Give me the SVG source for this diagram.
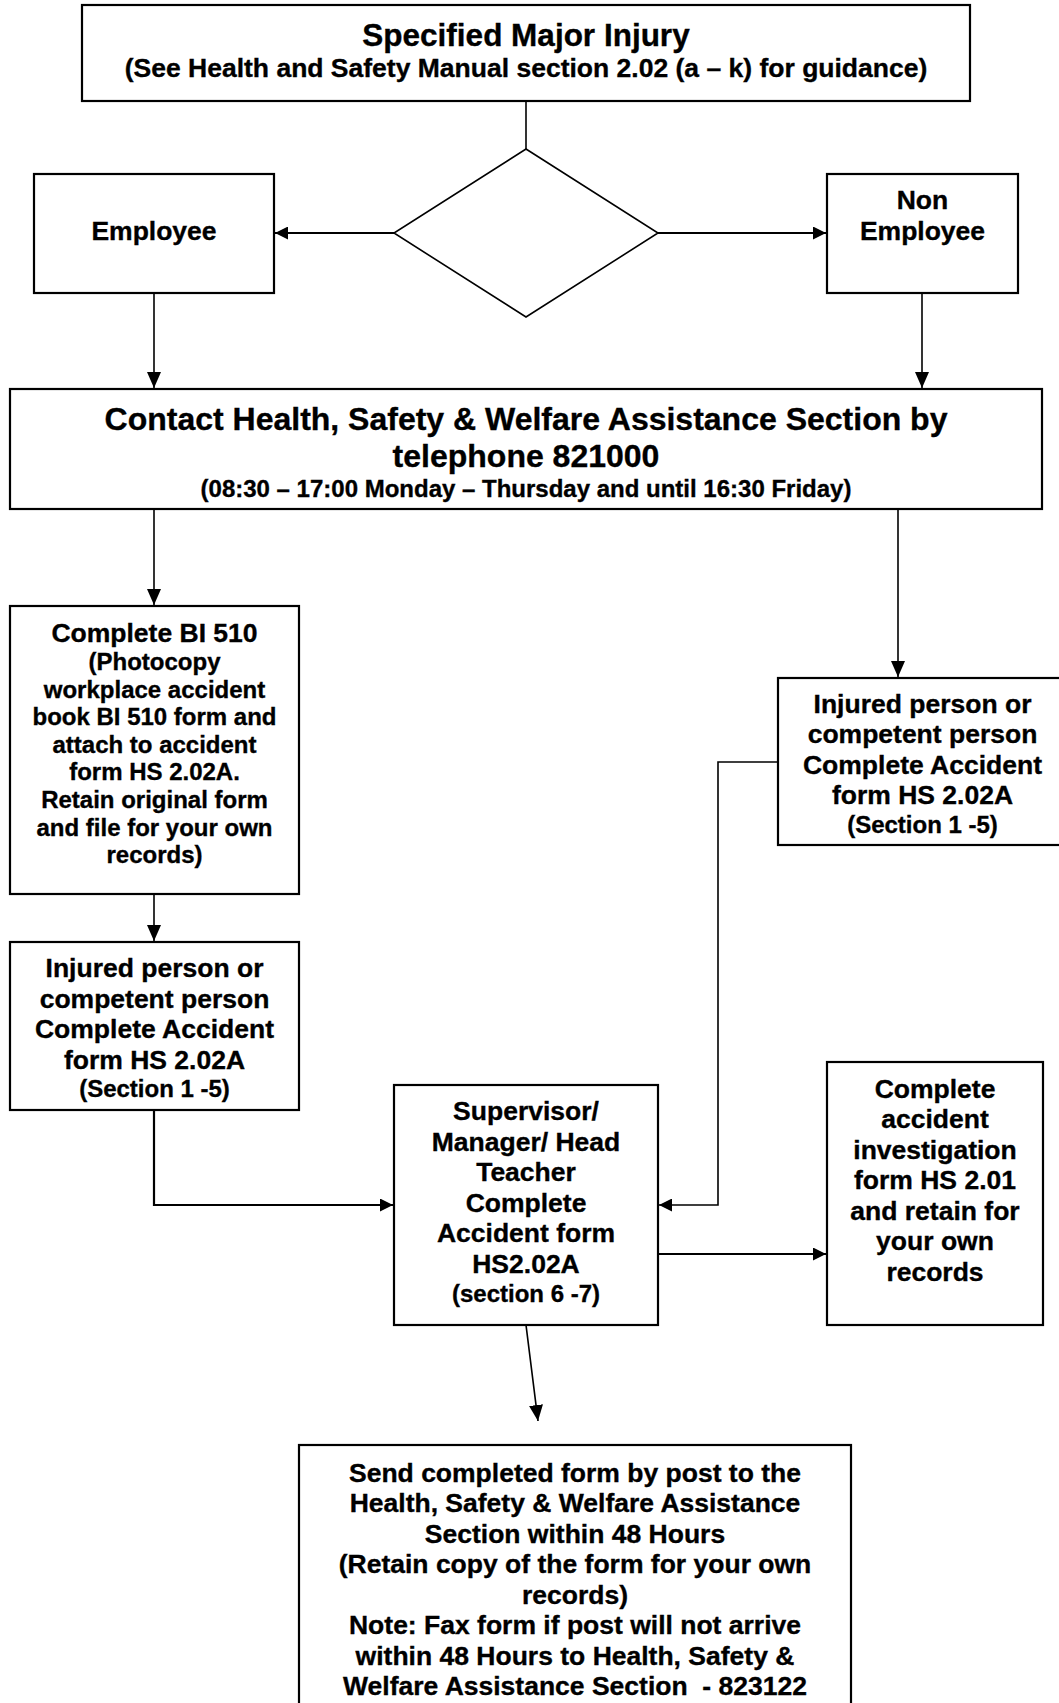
<svg xmlns="http://www.w3.org/2000/svg" width="1059" height="1703" viewBox="0 0 1059 1703">
  <style>
    .box { fill: #ffffff; stroke: #000000; stroke-width: 2.2; }
    .diamond { fill: #ffffff; stroke: #000000; stroke-width: 1.6; }
    .link { fill: none; stroke: #000000; stroke-width: 1.6; }
    .thick { stroke-width: 2.2; }
    text { font-family: "Liberation Sans", Arial, sans-serif; font-weight: bold; fill: #000000; stroke: #000000; stroke-width: 0.35; text-anchor: middle; }
    .h32 { font-size: 32px; }
    .h31 { font-size: 31.5px; }
    .h26 { font-size: 26.5px; }
    .h24 { font-size: 24px; }
  </style>
  <defs>
    <marker id="arrow" markerUnits="userSpaceOnUse" markerWidth="16" markerHeight="14" refX="16" refY="7" orient="auto">
      <path d="M0,0 L16,7 L0,14 Z" fill="#000000"/>
    </marker>
    <marker id="arrowSmall" markerUnits="userSpaceOnUse" markerWidth="13" markerHeight="13" refX="13" refY="6.5" orient="auto">
      <path d="M0,0 L13,6.5 L0,13 Z" fill="#000000"/>
    </marker>
  </defs>
  <rect x="0" y="0" width="1059" height="1703" fill="#ffffff"/>

  <!-- connectors -->
  <g id="connectors">
    <line class="link" x1="526" y1="101" x2="526" y2="149"/>
    <line class="link thick" x1="394" y1="233" x2="275" y2="233" marker-end="url(#arrowSmall)"/>
    <line class="link thick" x1="658" y1="233" x2="826" y2="233" marker-end="url(#arrowSmall)"/>
    <line class="link" x1="154" y1="293" x2="154" y2="388" marker-end="url(#arrow)"/>
    <line class="link" x1="922" y1="293" x2="922" y2="388" marker-end="url(#arrow)"/>
    <line class="link" x1="154" y1="509" x2="154" y2="605" marker-end="url(#arrow)"/>
    <line class="link" x1="154" y1="894" x2="154" y2="941" marker-end="url(#arrow)"/>
    <line class="link" x1="898" y1="509" x2="898" y2="677" marker-end="url(#arrow)"/>
    <polyline class="link" points="778,762 718,762 718,1205 659,1205" marker-end="url(#arrowSmall)"/>
    <polyline class="link thick" points="154,1110 154,1205 393,1205" marker-end="url(#arrowSmall)"/>
    <line class="link thick" x1="658" y1="1254" x2="826" y2="1254" marker-end="url(#arrowSmall)"/>
    <line class="link" x1="526" y1="1325" x2="538" y2="1421" marker-end="url(#arrow)"/>
  </g>

  <!-- start -->
  <g id="node-major-injury">
    <rect class="box" x="82" y="5" width="888" height="96"/>
    <text class="h31" x="526" y="46">Specified Major Injury</text>
    <text class="h26" x="526" y="76.5">(See Health and Safety Manual section 2.02 (a – k) for guidance)</text>
  </g>

  <g id="node-decision">
    <polygon class="diamond" points="526,149 658,233 526,317 394,233"/>
  </g>

  <g id="node-employee">
    <rect class="box" x="34" y="174" width="240" height="119"/>
    <text class="h26" x="154" y="240">Employee</text>
  </g>

  <g id="node-non-employee">
    <rect class="box" x="827" y="174" width="191" height="119"/>
    <text class="h26" x="922.5" y="209">Non</text>
    <text class="h26" x="922.5" y="240">Employee</text>
  </g>

  <g id="node-contact">
    <rect class="box" x="10" y="389" width="1032" height="120"/>
    <text class="h32" x="526" y="430">Contact Health, Safety &amp; Welfare Assistance Section by</text>
    <text class="h32" x="526" y="467">telephone 821000</text>
    <text class="h24" x="526" y="497">(08:30 – 17:00 Monday – Thursday and until 16:30 Friday)</text>
  </g>

  <g id="node-bi510">
    <rect class="box" x="10" y="606" width="289" height="288"/>
    <text class="h26" x="154.5" y="641.5">Complete BI 510</text>
    <text class="h24" x="154.5" y="670">(Photocopy</text>
    <text class="h24" x="154.5" y="697.6">workplace accident</text>
    <text class="h24" x="154.5" y="725.2">book BI 510 form and</text>
    <text class="h24" x="154.5" y="752.8">attach to accident</text>
    <text class="h24" x="154.5" y="780.4">form HS 2.02A.</text>
    <text class="h24" x="154.5" y="808">Retain original form</text>
    <text class="h24" x="154.5" y="835.6">and file for your own</text>
    <text class="h24" x="154.5" y="863.2">records)</text>
  </g>

  <g id="node-injured-employee">
    <rect class="box" x="10" y="942" width="289" height="168"/>
    <text class="h26" x="154.5" y="977">Injured person or</text>
    <text class="h26" x="154.5" y="1007.5">competent person</text>
    <text class="h26" x="154.5" y="1038">Complete Accident</text>
    <text class="h26" x="154.5" y="1068.5">form HS 2.02A</text>
    <text class="h24" x="154.5" y="1097">(Section 1 -5)</text>
  </g>

  <g id="node-injured-non-employee">
    <rect class="box" x="778" y="678" width="290" height="167"/>
    <text class="h26" x="922.5" y="712.5">Injured person or</text>
    <text class="h26" x="922.5" y="743">competent person</text>
    <text class="h26" x="922.5" y="773.5">Complete Accident</text>
    <text class="h26" x="922.5" y="804">form HS 2.02A</text>
    <text class="h24" x="922.5" y="833">(Section 1 -5)</text>
  </g>

  <g id="node-supervisor">
    <rect class="box" x="394" y="1085" width="264" height="240"/>
    <text class="h26" x="526" y="1120">Supervisor/</text>
    <text class="h26" x="526" y="1150.5">Manager/ Head</text>
    <text class="h26" x="526" y="1181">Teacher</text>
    <text class="h26" x="526" y="1211.5">Complete</text>
    <text class="h26" x="526" y="1242">Accident form</text>
    <text class="h26" x="526" y="1272.5">HS2.02A</text>
    <text class="h24" x="526" y="1302">(section 6 -7)</text>
  </g>

  <g id="node-investigation">
    <rect class="box" x="827" y="1062" width="216" height="263"/>
    <text class="h26" x="935" y="1097.5">Complete</text>
    <text class="h26" x="935" y="1128">accident</text>
    <text class="h26" x="935" y="1158.5">investigation</text>
    <text class="h26" x="935" y="1189">form HS 2.01</text>
    <text class="h26" x="935" y="1219.5">and retain for</text>
    <text class="h26" x="935" y="1250">your own</text>
    <text class="h26" x="935" y="1280.5">records</text>
  </g>

  <g id="node-send">
    <rect class="box" x="299" y="1445" width="552" height="270"/>
    <text class="h26" x="575" y="1481.5">Send completed form by post to the</text>
    <text class="h26" x="575" y="1512">Health, Safety &amp; Welfare Assistance</text>
    <text class="h26" x="575" y="1542.5">Section within 48 Hours</text>
    <text class="h26" x="575" y="1573">(Retain copy of the form for your own</text>
    <text class="h26" x="575" y="1603.5">records)</text>
    <text class="h26" x="575" y="1634">Note: Fax form if post will not arrive</text>
    <text class="h26" x="575" y="1664.5">within 48 Hours to Health, Safety &amp;</text>
    <text class="h26" x="575" y="1695">Welfare Assistance Section &#160;- 823122</text>
  </g>
</svg>
